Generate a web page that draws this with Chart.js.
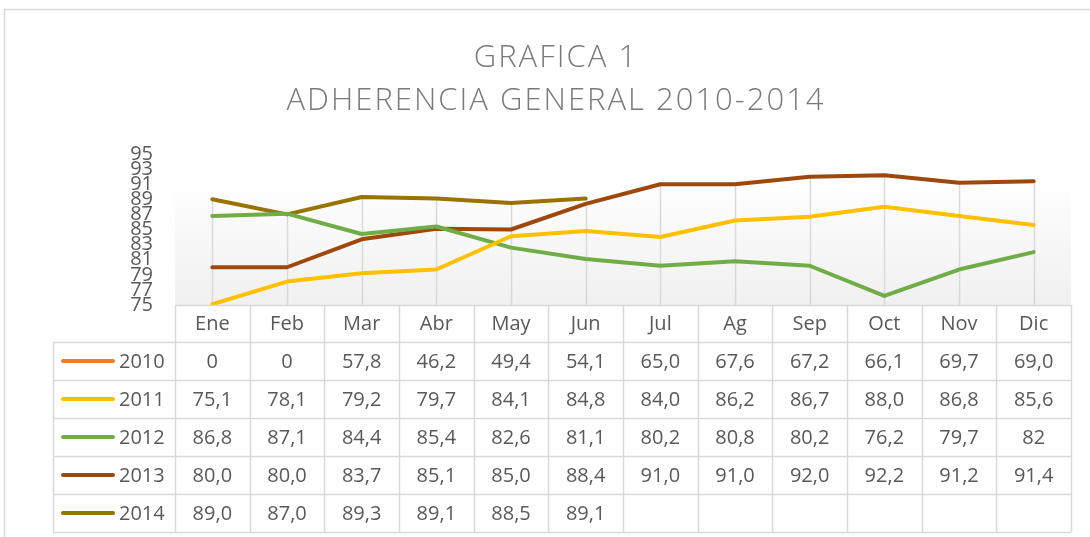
<!DOCTYPE html>
<html>
<head>
<meta charset="utf-8">
<script src="https://cdn.jsdelivr.net/npm/chart.js@4.4.1/dist/chart.umd.min.js"></script>
<style>
  html, body { margin: 0; padding: 0; background: #ffffff; }
  #wrap { width: 1090px; height: 537px; position: relative; }
</style>
</head>
<body>
<div id="wrap"><canvas id="c" width="1090" height="537"></canvas></div>
<script>
// ---- data (as shown in the data table) ----
const categories = ['Ene','Feb','Mar','Abr','May','Jun','Jul','Ag','Sep','Oct','Nov','Dic'];
const seriesNames = ['2010','2011','2012','2013','2014'];
const s2010 = ['0','0','57,8','46,2','49,4','54,1','65,0','67,6','67,2','66,1','69,7','69,0'];
const s2011 = ['75,1','78,1','79,2','79,7','84,1','84,8','84,0','86,2','86,7','88,0','86,8','85,6'];
const s2012 = ['86,8','87,1','84,4','85,4','82,6','81,1','80,2','80,8','80,2','76,2','79,7','82'];
const s2013 = ['80,0','80,0','83,7','85,1','85,0','88,4','91,0','91,0','92,0','92,2','91,2','91,4'];
const s2014 = ['89,0','87,0','89,3','89,1','88,5','89,1','','','','','',''];
const seriesColors = ['#ED7D31','#FFC000','#70AD47','#9E480E','#997300'];
const yMin = 75, yMax = 95, yStep = 2;
const titleLines = ['GRAFICA 1', 'ADHERENCIA GENERAL 2010-2014'];

const tableText = [s2010, s2011, s2012, s2013, s2014];
const toNum = s => s === '' ? null : parseFloat(s.replace(',', '.'));

const FONT = '"Open Sans", "DejaVu Sans", sans-serif';
const TEXT = '#595959';
const GRID = '#d9d9d9';
const ROW_H = 38;
const HEADER_H = 37;
const ROWLABEL_LEFT = 53;

const bgPlugin = {
  id: 'bgPlugin',
  beforeDraw(chart) {
    const {ctx, chartArea: a} = chart;
    ctx.save();
    ctx.fillStyle = '#ffffff';
    ctx.fillRect(0, 0, chart.width, chart.height);
    // outer chart border (left & top visible)
    ctx.strokeStyle = GRID;
    ctx.lineWidth = 1.5;
    ctx.strokeRect(4.5, 9.5, chart.width + 20, chart.height + 20);
    // plot area gradient
    const g = ctx.createLinearGradient(0, a.top, 0, a.bottom);
    g.addColorStop(0, '#ffffff');
    g.addColorStop(0.15, '#ffffff');
    g.addColorStop(1, '#f0f0f0');
    ctx.fillStyle = g;
    ctx.fillRect(a.left, a.top + 20, a.right - a.left, a.bottom - a.top - 20);
    // title
    ctx.fillStyle = '#7a7a7a';
    ctx.textAlign = 'center';
    ctx.textBaseline = 'alphabetic';
    ctx.font = '300 31px ' + FONT;
    try { ctx.letterSpacing = '2px'; } catch (e) {}
    const cx = (a.left + a.right) / 2 - 67;
    ctx.fillText(titleLines[0], cx, 67);
    ctx.fillText(titleLines[1], cx, 110);
    try { ctx.letterSpacing = '0px'; } catch (e) {}
    ctx.restore();
  },
  beforeDatasetsDraw(chart) {
    // drop lines from highest point of each category down to the axis
    const {ctx, chartArea: a, scales: {x, y}} = chart;
    ctx.save();
    ctx.strokeStyle = GRID;
    ctx.lineWidth = 1.5;
    categories.forEach((c, i) => {
      let mx = null;
      chart.data.datasets.forEach(ds => {
        const v = ds.data[i];
        if (v !== null && v >= yMin && (mx === null || v > mx)) mx = v;
      });
      if (mx === null) return;
      const px = Math.round(x.getPixelForValue(i)) + 0.5;
      ctx.beginPath();
      ctx.moveTo(px, y.getPixelForValue(Math.min(mx, yMax)));
      ctx.lineTo(px, a.bottom);
      ctx.stroke();
    });
    ctx.restore();
  },
  afterDraw(chart) {
    const {ctx, chartArea: a, scales: {x}} = chart;
    const half = (x.getPixelForValue(1) - x.getPixelForValue(0)) / 2;
    const bounds = categories.map((c, i) => x.getPixelForValue(i) - half);
    bounds.push(x.getPixelForValue(categories.length - 1) + half);
    const top = a.bottom;
    const rowsTop = top + HEADER_H;
    const bottom = rowsTop + ROW_H * seriesNames.length;
    ctx.save();
    ctx.strokeStyle = GRID;
    ctx.lineWidth = 1.5;
    // horizontal lines
    ctx.beginPath();
    ctx.moveTo(a.left, top + 0.5); ctx.lineTo(a.right, top + 0.5);
    for (let r = 0; r <= seriesNames.length; r++) {
      const yy = Math.round(rowsTop + r * ROW_H) + 0.5;
      ctx.moveTo(ROWLABEL_LEFT, yy); ctx.lineTo(a.right, yy);
    }
    // vertical lines
    bounds.forEach(bx => {
      const xx = Math.round(bx) + 0.5;
      ctx.moveTo(xx, top); ctx.lineTo(xx, bottom);
    });
    ctx.moveTo(ROWLABEL_LEFT + 0.5, rowsTop); ctx.lineTo(ROWLABEL_LEFT + 0.5, bottom);
    ctx.stroke();

    ctx.fillStyle = TEXT;
    ctx.font = '20px ' + FONT;
    ctx.textAlign = 'center';
    ctx.textBaseline = 'middle';
    categories.forEach((c, i) => {
      ctx.fillText(c, x.getPixelForValue(i), top + HEADER_H / 2 + 1);
    });
    seriesNames.forEach((name, r) => {
      const cy = rowsTop + r * ROW_H + ROW_H / 2 + 1;
      // legend key
      ctx.strokeStyle = seriesColors[r];
      ctx.lineWidth = 4;
      ctx.lineCap = 'round';
      ctx.beginPath();
      ctx.moveTo(63, cy - 1); ctx.lineTo(113, cy - 1);
      ctx.stroke();
      ctx.fillStyle = TEXT;
      ctx.textAlign = 'left';
      ctx.fillText(name, 119, cy);
      ctx.textAlign = 'center';
      tableText[r].forEach((t, i) => {
        if (t !== '') ctx.fillText(t, x.getPixelForValue(i), cy);
      });
    });
    ctx.restore();
  }
};

new Chart(document.getElementById('c'), {
  type: 'line',
  data: {
    labels: categories,
    datasets: seriesNames.map((n, k) => ({
      label: n,
      data: tableText[k].map(toNum),
      borderColor: seriesColors[k],
      backgroundColor: seriesColors[k],
      borderWidth: 4,
      pointRadius: 0,
      borderJoinStyle: 'round',
      borderCapStyle: 'round',
      spanGaps: false,
      tension: 0
    }))
  },
  options: {
    responsive: false,
    animation: false,
    layout: { padding: { left: 0, right: 19, top: 154, bottom: 232 } },
    plugins: { legend: { display: false }, title: { display: false }, tooltip: { enabled: false } },
    scales: {
      x: { type: 'category', offset: true, display: false },
      y: {
        min: yMin, max: yMax,
        afterFit(scale) { scale.width = 175; },
        grid: { display: false, drawTicks: false },
        border: { display: false },
        ticks: {
          stepSize: yStep,
          padding: 22,
          color: TEXT,
          font: { family: FONT, size: 20 },
          autoSkip: false
        }
      }
    }
  },
  plugins: [bgPlugin]
});
</script>
</body>
</html>
